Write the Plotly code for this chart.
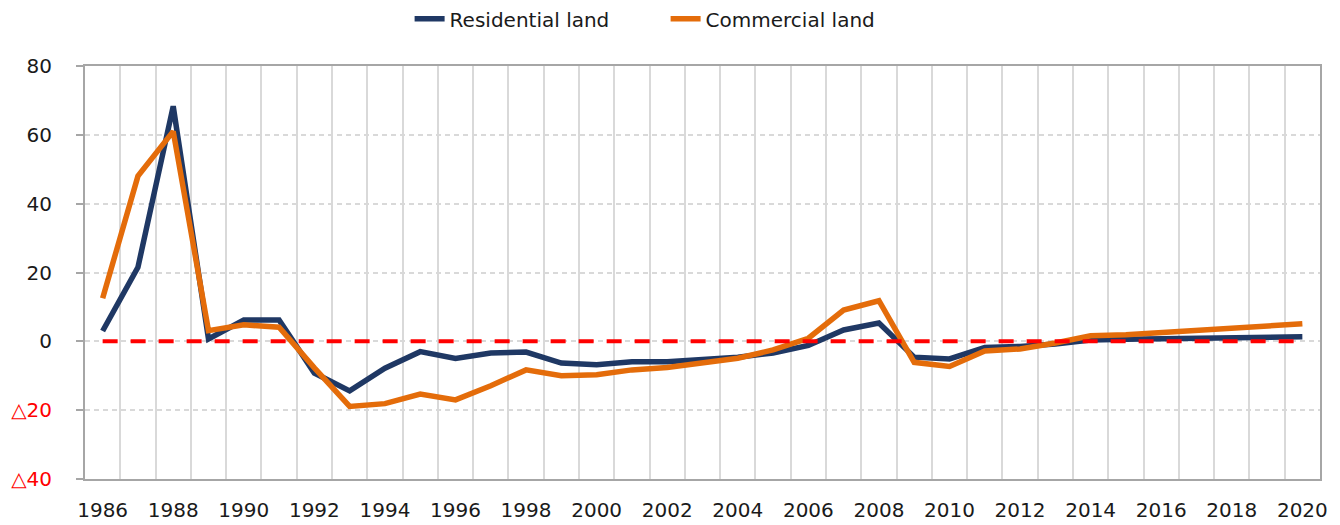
import plotly.graph_objects as go

years = list(range(1986, 2021))
residential = [3.0, 21.5, 68.3, 0.7, 6.2, 6.2, -9.2, -14.4, -7.8, -3.0,
               -5.0, -3.4, -3.1, -6.3, -6.8, -5.9, -5.9, -5.4, -4.6, -3.4,
               -1.2, 3.3, 5.3, -4.6, -5.1, -1.8, -1.5, -0.8, 0.4, 0.6,
               0.7, 0.7, 0.9, 1.2, 1.3]
commercial = [12.5, 48.0, 61.0, 3.1, 4.8, 4.1, -7.7, -18.9, -18.1, -15.3,
              -17.0, -12.9, -8.3, -10.0, -9.7, -8.3, -7.6, -6.1, -4.9, -2.5,
              0.9, 9.1, 11.8, -6.1, -7.3, -2.8, -2.2, -0.5, 1.6, 1.9,
              2.6, 3.0, 3.8, 4.6, 5.1]
baseline = [0] * len(years)

x_ticks = list(range(1986, 2021, 2))
y_ticks = [-40, -20, 0, 20, 40, 60, 80]
y_labels = ['<span style="color:#ff0000">△40</span>',
            '<span style="color:#ff0000">△20</span>',
            '0', '20', '40', '60', '80']

FONT = "DejaVu Sans"

fig = go.Figure()
fig.add_trace(go.Scatter(x=years, y=residential, mode="lines", name="Residential land",
                         line=dict(color="#1f3864", width=5.5)))
fig.add_trace(go.Scatter(x=years, y=commercial, mode="lines", name="Commercial land",
                         line=dict(color="#e46c0a", width=5.5)))
fig.add_trace(go.Scatter(x=years, y=baseline, mode="lines", showlegend=False,
                         line=dict(color="#ff0000", width=4, dash="15px,13px"),
                         hoverinfo="skip"))

# page body has an 8px default margin, so the figure is sized to fit the window
fig.update_layout(
    width=1332, height=517,
    margin=dict(l=77, r=20, t=58, b=46, autoexpand=False),
    paper_bgcolor="white", plot_bgcolor="white",
    font=dict(family=FONT, size=20, color="#1a1a1a"),
    legend=dict(orientation="h", x=0.4937, xanchor="center", xref="container",
                y=0.979, yanchor="middle", yref="container",
                entrywidth=211,
                font=dict(family=FONT, size=20, color="#1a1a1a"),
                bgcolor="rgba(0,0,0,0)"),
    showlegend=True,
)
fig.update_xaxes(
    type="linear", range=[1985.5, 2020.5], automargin=False,
    tickmode="array", tickvals=x_ticks, ticktext=[str(v) for v in x_ticks],
    showgrid=False, zeroline=False,
    showline=True, linecolor="#a6a6a6", linewidth=2, mirror=True,
    ticks="", ticklabelstandoff=12,
    minor=dict(tick0=1985.5, dtick=1, showgrid=True, gridcolor="#d9d9d9", gridwidth=2, ticks=""),
)
fig.update_yaxes(
    range=[-40, 80], automargin=False, tickmode="array", tickvals=y_ticks, ticktext=y_labels,
    showgrid=True, gridcolor="#d9d9d9", gridwidth=2, griddash="5px,4px",
    zeroline=False,
    showline=True, linecolor="#a6a6a6", linewidth=2, mirror=True,
    ticks="outside", ticklen=7, tickcolor="#a6a6a6", tickwidth=2,
    ticklabelstandoff=20,
)

fig.write_html("out.html")
